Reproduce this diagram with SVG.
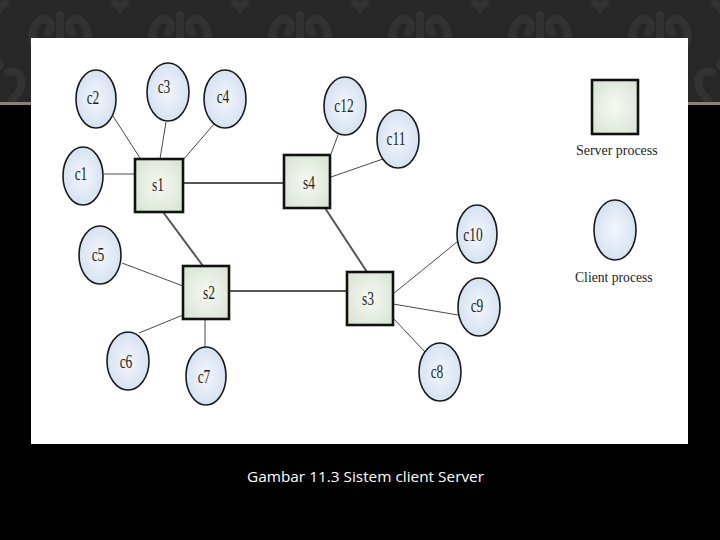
<svg xmlns="http://www.w3.org/2000/svg" width="720" height="540" viewBox="0 0 720 540">
<defs>
<radialGradient id="cg" cx="50%" cy="50%" r="55%">
<stop offset="0" stop-color="#f4f7fc"/>
<stop offset="1" stop-color="#d3e0f1"/>
</radialGradient>
<radialGradient id="sg" cx="50%" cy="50%" r="60%">
<stop offset="0" stop-color="#f6f9f3"/>
<stop offset="1" stop-color="#dbe5d6"/>
</radialGradient>
<pattern id="dam" x="0" y="0" width="120" height="104" patternUnits="userSpaceOnUse">
<rect width="120" height="104" fill="#272727"/>
<g fill="none" stroke="#323232" stroke-width="8" stroke-linecap="round">
<path d="M60 100 C60 70 60 50 60 15"/>
<path d="M60 62 C38 58 26 40 36 24 C44 12 56 24 48 32"/>
<path d="M60 62 C82 58 94 40 84 24 C76 12 64 24 72 32"/>
<path d="M0 65 C-15 40 -10 15 5 3"/>
<path d="M120 65 C135 40 130 15 115 3"/>
<path d="M12 100 C28 85 22 68 8 72"/>
<path d="M108 100 C92 85 98 68 112 72"/>
</g>
</pattern>
<style>
.cl{fill:url(#cg);stroke:#1a1a1a;stroke-width:1.6}
.sv{fill:url(#sg);stroke:#111;stroke-width:2.6}
.ln{stroke:#4a4a4a;stroke-width:1;fill:none}
.lt{stroke:#555;stroke-width:2;fill:none}
.lb{font-family:"Liberation Serif","Times New Roman",serif;font-size:18px;fill:#1e1e1e;text-anchor:middle}
.lg{font-family:"Liberation Serif","Times New Roman",serif;font-size:15px;fill:#1e1e1e}
</style>
</defs>
<rect width="720" height="540" fill="#000"/>
<rect width="720" height="104" fill="url(#dam)"/>
<rect y="102" width="720" height="3" fill="#8a8278"/>
<rect x="31" y="38" width="657" height="406" fill="#fff"/>

<g id="connectors">
<line class="ln" x1="104" y1="174" x2="135" y2="174"/>
<line class="ln" x1="113" y1="116" x2="140" y2="158"/>
<line class="ln" x1="166" y1="122" x2="160" y2="159"/>
<line class="ln" x1="214" y1="124" x2="183" y2="160"/>
<line class="lt" x1="183" y1="183" x2="284" y2="183"/>
<line class="ln" x1="338" y1="135" x2="331" y2="154"/>
<line class="ln" x1="383" y1="159" x2="331" y2="177"/>
<line class="lt" x1="325" y1="208" x2="367" y2="272" stroke="#333" stroke-width="1.4"/>
<line class="lt" x1="163" y1="212" x2="203" y2="266" stroke="#333" stroke-width="1.4"/>
<line class="ln" x1="122" y1="263" x2="183" y2="286"/>
<line class="ln" x1="139" y1="333" x2="183" y2="315"/>
<line class="ln" x1="205" y1="319" x2="205" y2="347"/>
<line class="lt" x1="229" y1="291" x2="347" y2="291" stroke-width="2.4"/>
<line class="ln" x1="393" y1="294" x2="457" y2="242"/>
<line class="ln" x1="393" y1="304" x2="458" y2="315"/>
<line class="ln" x1="393" y1="318" x2="425" y2="352"/>
</g>

<g id="s1"><rect class="sv" x="135" y="159" width="48" height="53"/><text class="lb" transform="translate(158,191) scale(0.75,1)">s1</text></g>
<g id="s2"><rect class="sv" x="183" y="266" width="46" height="53"/><text class="lb" transform="translate(209,299) scale(0.75,1)">s2</text></g>
<g id="s3"><rect class="sv" x="347" y="272" width="46" height="53"/><text class="lb" transform="translate(368,305) scale(0.75,1)">s3</text></g>
<g id="s4"><rect class="sv" x="284" y="155" width="46" height="53"/><text class="lb" transform="translate(309,189) scale(0.75,1)">s4</text></g>

<g id="c1"><ellipse class="cl" cx="83" cy="176" rx="20" ry="29"/><text class="lb" transform="translate(81,180) scale(0.75,1)">c1</text></g>
<g id="c2"><ellipse class="cl" cx="96" cy="99" rx="20" ry="29"/><text class="lb" transform="translate(93,104) scale(0.75,1)">c2</text></g>
<g id="c3"><ellipse class="cl" cx="168" cy="92" rx="21" ry="29"/><text class="lb" transform="translate(164,93) scale(0.75,1)">c3</text></g>
<g id="c4"><ellipse class="cl" cx="225" cy="99" rx="21" ry="29"/><text class="lb" transform="translate(223,103) scale(0.75,1)">c4</text></g>
<g id="c5"><ellipse class="cl" cx="100" cy="255" rx="21" ry="29"/><text class="lb" transform="translate(98,261) scale(0.75,1)">c5</text></g>
<g id="c6"><ellipse class="cl" cx="128" cy="361" rx="21" ry="29"/><text class="lb" transform="translate(126,368) scale(0.75,1)">c6</text></g>
<g id="c7"><ellipse class="cl" cx="206" cy="376" rx="20" ry="29"/><text class="lb" transform="translate(204,383) scale(0.75,1)">c7</text></g>
<g id="c8"><ellipse class="cl" cx="440" cy="372" rx="21" ry="29"/><text class="lb" transform="translate(437,378) scale(0.75,1)">c8</text></g>
<g id="c9"><ellipse class="cl" cx="479" cy="307" rx="21" ry="29"/><text class="lb" transform="translate(477,312) scale(0.75,1)">c9</text></g>
<g id="c10"><ellipse class="cl" cx="477" cy="234" rx="20" ry="29"/><text class="lb" transform="translate(473,241) scale(0.75,1)">c10</text></g>
<g id="c11"><ellipse class="cl" cx="398" cy="139" rx="21" ry="29"/><text class="lb" transform="translate(396,145) scale(0.75,1)">c11</text></g>
<g id="c12"><ellipse class="cl" cx="345" cy="106" rx="21" ry="29"/><text class="lb" transform="translate(344,112) scale(0.75,1)">c12</text></g>

<g id="legend-server"><rect class="sv" x="592" y="80" width="46" height="54"/><text class="lg" transform="translate(576,155) scale(0.93,1)">Server process</text></g>
<g id="legend-client"><ellipse class="cl" cx="615" cy="230" rx="21" ry="30"/><text class="lg" transform="translate(575,282) scale(0.91,1)">Client process</text></g>

<text x="247" y="482" textLength="237" lengthAdjust="spacingAndGlyphs" font-family="'Open Sans','Noto Sans',sans-serif" font-size="14.5" fill="#fff">Gambar 11.3 Sistem client Server</text>
</svg>
